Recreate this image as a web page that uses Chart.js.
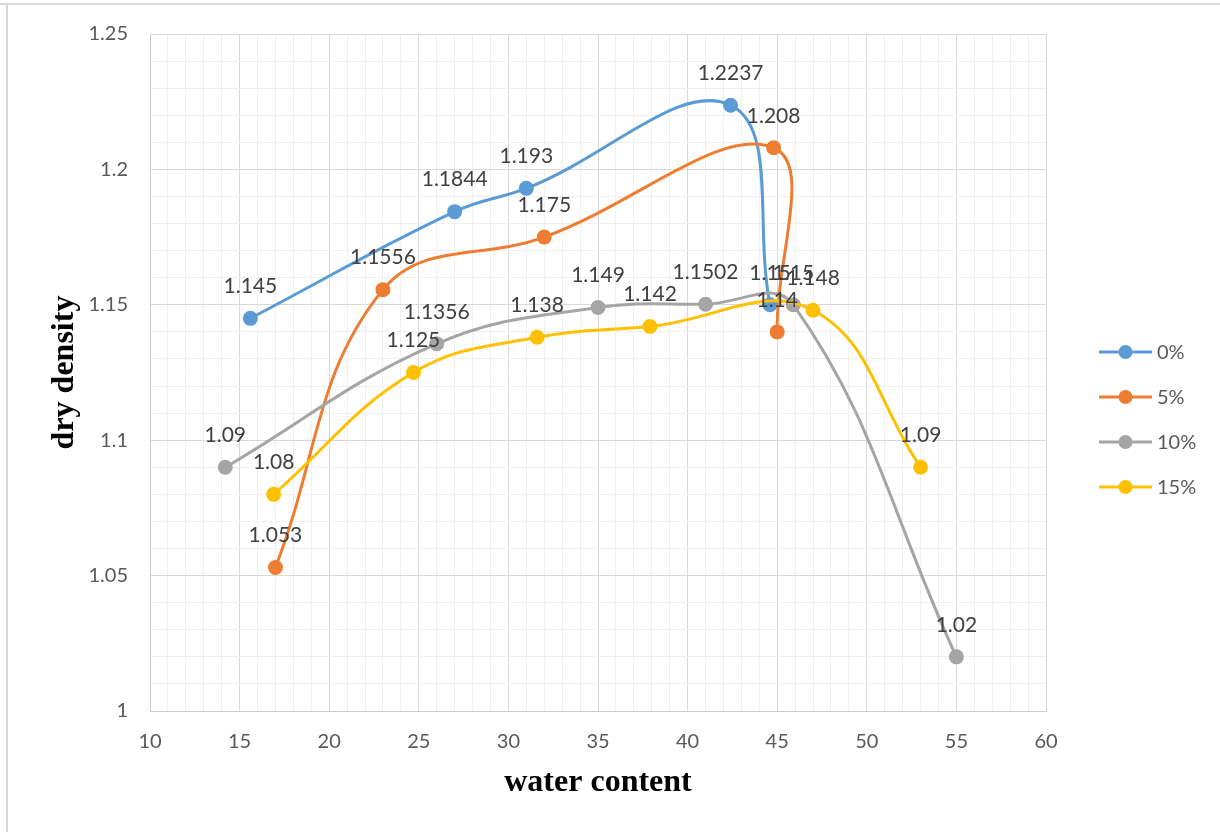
<!DOCTYPE html>
<html>
<head>
<meta charset="utf-8">
<title>dry density vs water content</title>
<script src="https://cdn.jsdelivr.net/npm/chart.js@4.4.1/dist/chart.umd.min.js"></script>
<style>
  html, body { margin: 0; padding: 0; background: #ffffff; }
  #c { display: block; }
</style>
</head>
<body>
<canvas id="c" width="1220" height="832"></canvas>
<script>
// Series: additive content
const seriesNames = ['0%', '5%', '10%', '15%'];
const seriesColors = ['#5B9BD5', '#ED7D31', '#A5A5A5', '#FFC000'];

// Water content (x) and dry density (y) per series
const water0 = [15.6, 27, 31, 42.4, 44.6];
const density0 = [1.145, 1.1844, 1.193, 1.2237, 1.15];

const water5 = [17, 23, 32, 44.8, 45];
const density5 = [1.053, 1.1556, 1.175, 1.208, 1.14];

const water10 = [14.2, 26, 35, 41, 45.9, 55];
const density10 = [1.09, 1.1356, 1.149, 1.1502, 1.15, 1.02];

const water15 = [16.9, 24.7, 31.6, 37.9, 47, 53];
const density15 = [1.08, 1.125, 1.138, 1.142, 1.148, 1.09];

// Axis ranges and labelled ticks
const xMin = 10, xMax = 60, xMinorStep = 1, xMajorStep = 5;
const yMin = 1, yMax = 1.25, yMinorStep = 0.01, yMajorStep = 0.05;
const xTickLabels = ['10', '15', '20', '25', '30', '35', '40', '45', '50', '55', '60'];
const yTickLabels = ['1', '1.05', '1.1', '1.15', '1.2', '1.25'];

const waterSets = [water0, water5, water10, water15];
const densitySets = [density0, density5, density10, density15];

const LABEL_FONT = 'Lato, "Liberation Sans", sans-serif';
const TITLE_FONT = '"Liberation Serif", "DejaVu Serif", serif';
const GRID_MAJOR = '#d9d9d9';
const GRID_MINOR = '#f0f0f0';

function isMajor(v, step, minor) {
  const k = Math.round(v / minor);
  const m = Math.round(step / minor);
  return k % m === 0;
}

// White page with the thin frame lines at top and left
const framePlugin = {
  id: 'frame',
  beforeDraw(chart) {
    const ctx = chart.ctx;
    ctx.save();
    ctx.fillStyle = '#ffffff';
    ctx.fillRect(0, 0, chart.width, chart.height);
    ctx.strokeStyle = '#d9d9d9';
    ctx.lineWidth = 2;
    ctx.beginPath();
    ctx.moveTo(0, 4);
    ctx.lineTo(chart.width, 4);
    ctx.moveTo(7, 4);
    ctx.lineTo(7, chart.height);
    ctx.stroke();
    ctx.restore();
  }
};

// Value labels drawn above each point
const valueLabelPlugin = {
  id: 'valueLabels',
  afterDatasetsDraw(chart) {
    const ctx = chart.ctx;
    ctx.save();
    ctx.font = '21px ' + LABEL_FONT;
    ctx.fillStyle = '#404040';
    ctx.textAlign = 'center';
    ctx.textBaseline = 'middle';
    chart.data.datasets.forEach((ds, i) => {
      const meta = chart.getDatasetMeta(i);
      meta.data.forEach((pt, j) => {
        ctx.fillText(String(ds.data[j].y), pt.x, pt.y - 32);
      });
    });
    ctx.restore();
  }
};

// Legend on the right: line with a round marker, then the series name
const sideLegendPlugin = {
  id: 'sideLegend',
  afterDraw(chart) {
    const ctx = chart.ctx;
    const area = chart.chartArea;
    const x0 = area.right + 53;
    const gap = 45;
    const n = chart.data.datasets.length;
    const yc = (area.top + area.bottom) / 2 + 47;
    ctx.save();
    ctx.font = '20px ' + LABEL_FONT;
    ctx.textBaseline = 'middle';
    ctx.textAlign = 'left';
    chart.data.datasets.forEach((ds, i) => {
      const y = yc + (i - (n - 1) / 2) * gap;
      ctx.strokeStyle = ds.borderColor;
      ctx.lineWidth = 3;
      ctx.beginPath();
      ctx.moveTo(x0, y);
      ctx.lineTo(x0 + 53, y);
      ctx.stroke();
      ctx.fillStyle = ds.borderColor;
      ctx.beginPath();
      ctx.arc(x0 + 26.5, y, 7, 0, Math.PI * 2);
      ctx.fill();
      ctx.fillStyle = '#595959';
      ctx.fillText(ds.label, x0 + 58, y + 1);
    });
    ctx.restore();
  }
};

const datasets = seriesNames.map((name, i) => ({
  label: name,
  data: waterSets[i].map((x, j) => ({ x: x, y: densitySets[i][j] })),
  showLine: true,
  borderColor: seriesColors[i],
  backgroundColor: seriesColors[i],
  borderWidth: 3,
  tension: 0.4,
  pointRadius: 7.5,
  pointBorderWidth: 0,
  pointHoverRadius: 7.5,
  order: seriesNames.length - 1 - i
}));

new Chart(document.getElementById('c'), {
  type: 'scatter',
  data: { datasets: datasets },
  plugins: [framePlugin, valueLabelPlugin, sideLegendPlugin],
  options: {
    responsive: false,
    animation: false,
    events: [],
    layout: { padding: { left: 0, right: 174, top: 32, bottom: 0 } },
    plugins: {
      legend: { display: false },
      tooltip: { enabled: false }
    },
    scales: {
      x: {
        type: 'linear',
        min: xMin,
        max: xMax,
        afterFit(scale) { scale.height = 121; },
        ticks: {
          stepSize: xMinorStep,
          autoSkip: false,
          maxRotation: 0,
          padding: 19,
          color: '#595959',
          font: { family: LABEL_FONT, size: 20 },
          callback(v) {
            if (!isMajor(v, xMajorStep, xMinorStep)) return '';
            return xTickLabels[Math.round((v - xMin) / xMajorStep)];
          }
        },
        grid: {
          drawTicks: false,
          lineWidth: 1,
          color(ctx) {
            return ctx.tick && isMajor(ctx.tick.value, xMajorStep, xMinorStep) ? GRID_MAJOR : GRID_MINOR;
          }
        },
        border: { color: '#cccccc', width: 1 },
        title: {
          display: true,
          text: 'water content',
          color: '#000000',
          font: { family: TITLE_FONT, size: 32, weight: 'bold' },
          padding: { top: 0, bottom: 30 }
        }
      },
      y: {
        type: 'linear',
        min: yMin,
        max: yMax,
        afterFit(scale) { scale.width = 150; },
        ticks: {
          stepSize: yMinorStep,
          autoSkip: false,
          padding: 22,
          color: '#595959',
          font: { family: LABEL_FONT, size: 20 },
          callback(v) {
            if (!isMajor(v - yMin, yMajorStep, yMinorStep)) return '';
            return yTickLabels[Math.round((v - yMin) / yMajorStep)];
          }
        },
        grid: {
          drawTicks: false,
          lineWidth: 1,
          color(ctx) {
            return ctx.tick && isMajor(ctx.tick.value - yMin, yMajorStep, yMinorStep) ? GRID_MAJOR : GRID_MINOR;
          }
        },
        border: { color: '#cccccc', width: 1 },
        title: {
          display: true,
          text: 'dry density',
          color: '#000000',
          font: { family: TITLE_FONT, size: 32, weight: 'bold' },
          padding: { top: 46, bottom: 0 }
        }
      }
    }
  }
});
</script>
</body>
</html>
